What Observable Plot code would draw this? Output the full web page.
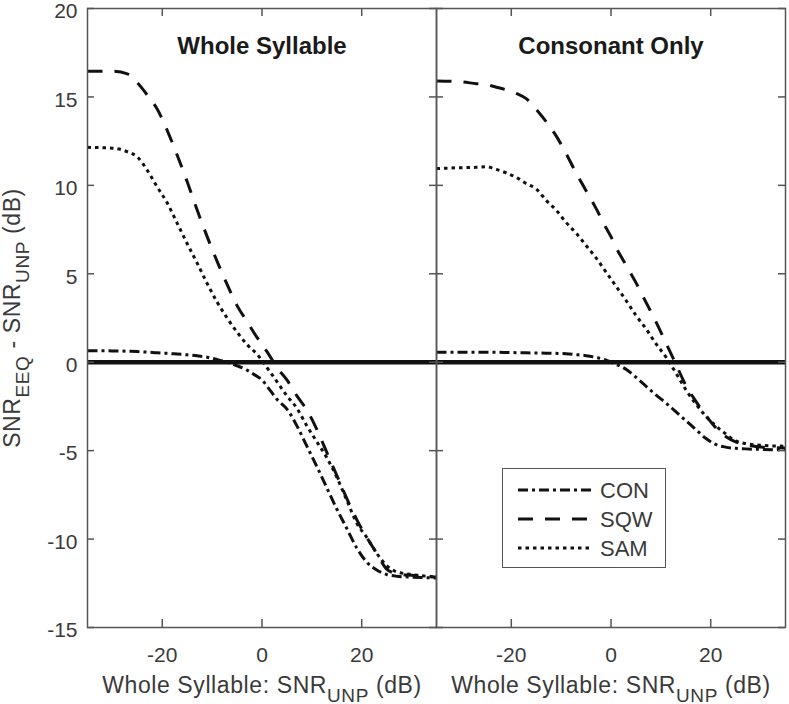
<!DOCTYPE html>
<html>
<head>
<meta charset="utf-8">
<script src="https://cdn.jsdelivr.net/npm/d3@7"></script>
<script src="https://cdn.jsdelivr.net/npm/@observablehq/plot@0.6"></script>
<style>
  html, body { margin: 0; padding: 0; background: #fff; }
  #wrap { position: relative; width: 789px; height: 704px; font-family: "Liberation Sans", Arial, sans-serif; }
  #legend { position: absolute; left: 502px; top: 468px; width: 162px; height: 98px; border: 1.5px solid #555; background: #fff; }
</style>
</head>
<body>
<div id="wrap"></div>
<script>
// ---- data ----
const panels = ["Whole Syllable", "Consonant Only"];
const seriesNames = ["CON", "SQW", "SAM"];
const xGrid = [-35, -30, -27, -25, -23, -21, -19, -17, -15, -13, -11, -9, -7, -5, -3, -1, 0, 1, 3, 5, 7, 9, 11, 13, 15, 17, 19, 21, 23, 25, 27, 30, 35];

// Whole Syllable panel
const wsCON = [0.65, 0.64, 0.62, 0.6, 0.57, 0.53, 0.5, 0.46, 0.42, 0.36, 0.28, 0.15, 0.0, -0.2, -0.45, -0.8, -1.0, -1.35, -2.1, -2.65, -3.6, -4.75, -5.9, -7.1, -8.3, -9.4, -10.5, -11.3, -11.75, -12.0, -12.1, -12.15, -12.2];
const wsSQW = [16.45, 16.45, 16.3, 15.8, 15.1, 14.3, 13.1, 11.7, 10.2, 8.6, 7.1, 5.7, 4.4, 3.2, 2.3, 1.4, 1.0, 0.6, -0.3, -1.0, -1.9, -2.7, -3.8, -5.1, -6.4, -7.7, -8.9, -9.9, -10.8, -11.7, -11.95, -12.05, -12.15];
const wsSAM = [12.15, 12.1, 11.9, 11.6, 10.85, 9.9, 9.0, 7.85, 6.7, 5.6, 4.45, 3.4, 2.5, 1.7, 1.0, 0.45, 0.1, -0.3, -1.1, -1.9, -2.6, -3.6, -4.5, -5.4, -6.5, -7.8, -9.1, -9.9, -10.8, -11.5, -11.85, -12.0, -12.15];

// Consonant Only panel
const coCON = [0.57, 0.57, 0.57, 0.56, 0.56, 0.55, 0.54, 0.53, 0.52, 0.51, 0.5, 0.48, 0.43, 0.37, 0.27, 0.12, 0.0, -0.12, -0.4, -0.85, -1.35, -1.85, -2.3, -2.8, -3.3, -3.8, -4.3, -4.65, -4.8, -4.87, -4.9, -4.93, -4.95];
const coSQW = [15.9, 15.85, 15.75, 15.7, 15.55, 15.4, 15.2, 14.9, 14.3, 13.6, 12.8, 11.8, 10.7, 9.7, 8.7, 7.6, 7.1, 6.5, 5.5, 4.5, 3.4, 2.3, 1.1, -0.1, -1.3, -2.2, -3.0, -3.7, -4.2, -4.5, -4.65, -4.8, -4.85];
const coSAM = [10.95, 11.0, 11.02, 11.05, 10.9, 10.7, 10.45, 10.1, 9.8, 9.15, 8.6, 7.9, 7.3, 6.6, 5.9, 5.1, 4.7, 4.3, 3.5, 2.65, 1.9, 1.05, 0.3, -0.6, -1.55, -2.35, -3.05, -3.6, -4.05, -4.45, -4.6, -4.7, -4.75];

const xTicks = [-20, 0, 20];
const yTicks = [-15, -10, -5, 0, 5, 10, 15, 20];
const xLabel = "Whole Syllable: SNR_{UNP} (dB)";
const yLabel = "SNR_{EEQ} - SNR_{UNP} (dB)";

// ---- build table ----
const seriesByPanel = {
  "Whole Syllable": {CON: wsCON, SQW: wsSQW, SAM: wsSAM},
  "Consonant Only": {CON: coCON, SQW: coSQW, SAM: coSAM}
};
const rows = [];
for (const p of panels) for (const s of seriesNames) {
  seriesByPanel[p][s].forEach((v, i) => rows.push({panel: p, series: s, x: xGrid[i], y: v}));
}
const dash = {CON: "10,4,3,4", SQW: "15,12", SAM: "3.5,4"};
const ink = "#111";
const frameInk = "#555";
const textInk = "#3a3a3a";

const lineMarks = seriesNames.map(s => Plot.line(rows.filter(r => r.series === s), {
  fx: "panel", x: "x", y: "y", stroke: ink, strokeWidth: 3,
  strokeDasharray: dash[s], strokeLinecap: "butt", curve: "monotone-x"
}));

const chart = Plot.plot({
  width: 789,
  height: 704,
  marginTop: 8,
  marginBottom: 77,
  marginLeft: 86,
  marginRight: 4,
  style: {fontFamily: "'Liberation Sans', Arial, sans-serif", fontSize: "21px", color: textInk, background: "white", overflow: "visible"},
  fx: {domain: panels, padding: 0, axis: null, label: null},
  x: {domain: [-35, 35], ticks: xTicks, tickSize: 0, tickPadding: 20, tickFormat: d => String(d), label: null},
  y: {domain: [-15, 20], ticks: yTicks, tickSize: 0, tickPadding: 10, tickFormat: d => String(d), label: null},
  marks: [
    ...lineMarks,
    Plot.ruleY([0], {stroke: ink, strokeWidth: 4.5}),
    Plot.tickY(yTicks, {y: d => d, stroke: frameInk, strokeWidth: 1.5, insetRight: 342}),
    Plot.tickY(yTicks, {y: d => d, stroke: frameInk, strokeWidth: 1.5, insetLeft: 342}),
    Plot.tickX(xTicks, {x: d => d, stroke: frameInk, strokeWidth: 1.5, insetTop: 611}),
    Plot.tickX(xTicks, {x: d => d, stroke: frameInk, strokeWidth: 1.5, insetBottom: 611}),
    Plot.frame({stroke: frameInk, strokeWidth: 1.5}),
    Plot.text(panels, {fx: d => d, text: d => d, frameAnchor: "top", lineAnchor: "top", dy: 28,
      fontWeight: "bold", fontSize: 24, fill: "#1a1a1a"}),
    Plot.text(panels, {fx: d => d, text: () => xLabel, frameAnchor: "bottom", lineAnchor: "bottom", dy: 65,
      fontSize: 23, fill: textInk}),
    Plot.text([panels[0]], {fx: d => d, text: () => yLabel, frameAnchor: "left", textAnchor: "middle",
      lineAnchor: "middle", rotate: -90, dx: -75, fontSize: 23, fill: textInk})
  ]
});

// subscripts
d3.select(chart).selectAll("text").each(function() {
  const t = this.textContent;
  if (!t.includes("_{")) return;
  const el = d3.select(this);
  el.text(null).attr("letter-spacing", "0.6px");
  const parts = t.split(/(_\{[^}]*\})/).filter(s => s.length);
  let sub = false;
  parts.forEach(p => {
    if (p.startsWith("_{")) {
      el.append("tspan").attr("dy", 9).attr("font-size", "19px").text(p.slice(2, -1));
      sub = true;
    } else {
      const ts = el.append("tspan").text(p);
      if (sub) { ts.attr("dy", -9); sub = false; }
    }
  });
});

// nudge y tick labels slightly down, as in the reference
d3.select(chart).selectAll("g[aria-label^='y-axis']").filter(function() {
  return d3.select(this).selectAll("text").size() > 0;
}).attr("transform", function() {
  const t = this.getAttribute("transform") || "";
  return t + " translate(0,3)";
});

const wrap = document.getElementById("wrap");
wrap.appendChild(chart);

// legend
const legend = document.createElement("div");
legend.id = "legend";
wrap.appendChild(legend);
const lsvg = d3.select(legend).append("svg").attr("width", 162).attr("height", 98);
seriesNames.forEach((s, i) => {
  const cy = 21 + i * 29;
  lsvg.append("line").attr("x1", 15).attr("x2", 89).attr("y1", cy).attr("y2", cy)
    .attr("stroke", ink).attr("stroke-width", 3).attr("stroke-dasharray", dash[s]);
  lsvg.append("text").attr("x", 97).attr("y", cy).attr("dy", "0.35em")
    .attr("font-size", 22).attr("fill", textInk).attr("font-family", "'Liberation Sans', Arial, sans-serif").text(s);
});
</script>
</body>
</html>
